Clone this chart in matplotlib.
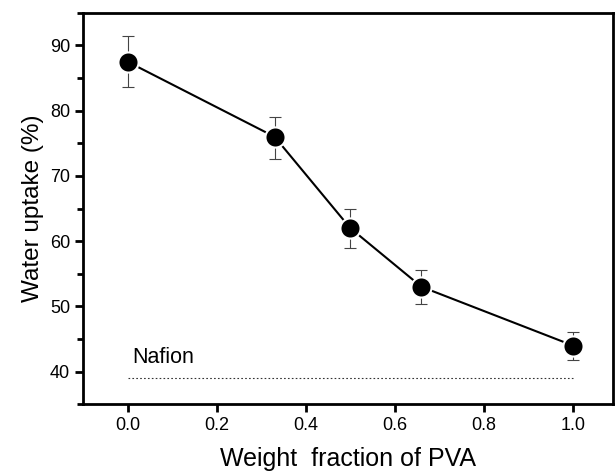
import matplotlib
matplotlib.use('Agg')
import matplotlib.pyplot as plt
from matplotlib.ticker import MultipleLocator

plt.rcParams['font.family'] = ['Liberation Sans', 'DejaVu Sans']

pva_fraction = [0.0, 0.33, 0.5, 0.66, 1.0]
water_uptake = [87.5, 76.0, 62.0, 53.0, 44.0]
err_low = [3.9, 3.4, 3.1, 2.6, 2.2]
err_high = [4.0, 3.1, 3.0, 2.5, 2.0]
nafion_x = [0.0, 1.0]
nafion_y = [39.0, 39.0]

fig = plt.figure(figsize=(6.16, 4.75), dpi=100)
ax = fig.add_axes([0.135, 0.149, 0.86, 0.824])

# nafion reference line
ax.plot(nafion_x, nafion_y, linestyle=(0, (1.5, 2)), color='#333333', linewidth=0.8)
ax.text(0.01, 40.5, 'Nafion', fontsize=15.5, ha='left', va='bottom')

ax.errorbar(pva_fraction, water_uptake, yerr=[err_low, err_high],
            fmt='none', ecolor='#444444', elinewidth=0.8, capsize=4, capthick=0.8)
ax.plot(pva_fraction, water_uptake, '-o', color='black', linewidth=1.5,
        markersize=14.5, markeredgecolor='white', markeredgewidth=1.5)

ax.set_xlim(-0.1, 1.09)
ax.set_ylim(35, 95)
ax.set_xticks([0.0, 0.2, 0.4, 0.6, 0.8, 1.0])
ax.set_yticks([40, 50, 60, 70, 80, 90])
ax.yaxis.set_minor_locator(MultipleLocator(5))
ax.set_xticklabels(['0.0', '0.2', '0.4', '0.6', '0.8', '1.0'])

ax.tick_params(axis='both', which='major', direction='out', length=6, width=2,
               labelsize=13, top=False, right=False)
ax.tick_params(axis='y', which='minor', direction='out', length=4, width=2)
for s in ax.spines.values():
    s.set_linewidth(2)

ax.set_xlabel('Weight  fraction of PVA', fontsize=18, labelpad=9)
ax.set_ylabel('Water uptake (%)', fontsize=17.5, labelpad=4)

fig.savefig('out.png', dpi=100)
